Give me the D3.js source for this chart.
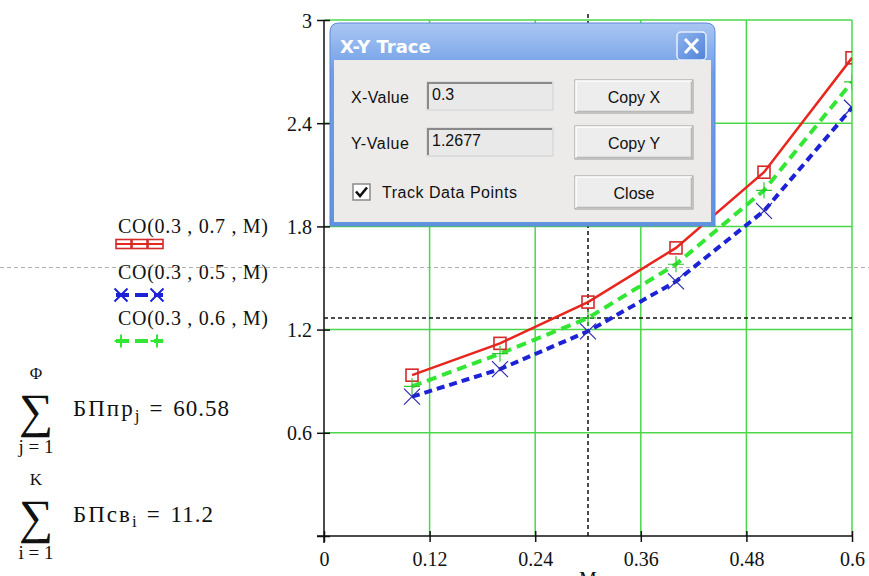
<!DOCTYPE html>
<html lang="ru">
<head>
<meta charset="UTF-8">
<title>CO(0.3, p, M)</title>
<script src="https://cdn.jsdelivr.net/npm/d3@7"></script>
<style>
  html, body { margin: 0; padding: 0; background: #fff; overflow: hidden; }
  svg { display: block; }
  .serif { font-family: "Liberation Serif", "Times New Roman", serif; fill: #111; }
  .ui { font-family: "Liberation Sans", Arial, sans-serif; fill: #111; }
</style>
</head>
<body>
<div id="chart"></div>
<script>
// data
const xVals = [0.1, 0.2, 0.3, 0.4, 0.5, 0.6];
const co07 = [0.935, 1.12, 1.36, 1.675, 2.115, 2.78];
const co05 = [0.81, 0.97, 1.19, 1.48, 1.89, 2.49];
const co06 = [0.87, 1.06, 1.2677, 1.58, 2.01, 2.64];
const seriesNames = ["CO(0.3 , 0.7 , M)", "CO(0.3 , 0.5 , M)", "CO(0.3 , 0.6 , M)"];
const xTicks = [0, 0.12, 0.24, 0.36, 0.48, 0.6];
const yTicks = [0, 0.6, 1.2, 1.8, 2.4, 3];
const traceX = 0.3;
const traceY = 1.2677;
const sumLines = [
  { top: "Φ", base: "БПпр", sub: "j", idx: "j = 1", value: "60.58" },
  { top: "K", base: "БПсв", sub: "i", idx: "i = 1", value: "11.2" }
];

const W = 869, H = 576;
const svg = d3.select("#chart").append("svg").attr("width", W).attr("height", H);
svg.append("rect").attr("width", W).attr("height", H).attr("fill", "#fff");

const x = d3.scaleLinear().domain([0, 0.6]).range([324, 852]);
const y = d3.scaleLinear().domain([0, 3]).range([536, 20]);

// page separator (Mathcad region line)
svg.append("line")
  .attr("x1", 0).attr("x2", W).attr("y1", 267.5).attr("y2", 267.5)
  .attr("stroke", "#b0b0b0").attr("stroke-width", 1).attr("stroke-dasharray", "4,3");

// green grid
const grid = svg.append("g");
grid.selectAll(".gy").data(yTicks.filter(d => d > 0)).join("line")
  .attr("x1", x(0)).attr("x2", x(0.6))
  .attr("y1", d => y(d)).attr("y2", d => y(d))
  .attr("stroke", "#4ad84a").attr("stroke-width", 1.5);
grid.selectAll(".gx").data(xTicks.filter(d => d > 0)).join("line")
  .attr("x1", d => x(d)).attr("x2", d => x(d))
  .attr("y1", y(3)).attr("y2", y(0))
  .attr("stroke", "#4ad84a").attr("stroke-width", 1.5);

// axes
const yAxis = d3.axisLeft(y).tickValues(yTicks).tickSize(7).tickPadding(5)
  .tickFormat(d => d === 0 ? "" : d3.format("")(d));
const gy = svg.append("g").attr("transform", `translate(${x(0)},0)`).call(yAxis);
const xAxis = d3.axisBottom(x).tickValues(xTicks).tickSize(6).tickPadding(6)
  .tickFormat(d3.format(""));
const gx = svg.append("g").attr("transform", `translate(0,${y(0)})`).call(xAxis);

[gx, gy].forEach(g => {
  g.select(".domain").remove();
  g.selectAll("line").attr("stroke", "#111").attr("stroke-width", 1.5);
  g.selectAll("text").attr("class", "serif").attr("font-size", 20).attr("fill", "#111");
});
gy.selectAll(".tick line").attr("x1", 6);
gx.selectAll(".tick line").attr("y1", -5);
gy.selectAll(".tick text").attr("dy", "0.35em");
gx.selectAll(".tick text").attr("dy", "0.9em");

svg.append("line").attr("x1", x(0)).attr("x2", x(0))
  .attr("y1", y(3)).attr("y2", y(0) + 7).attr("stroke", "#111").attr("stroke-width", 1.5);
svg.append("line").attr("x1", x(0) - 7).attr("x2", x(0.6))
  .attr("y1", y(0)).attr("y2", y(0)).attr("stroke", "#111").attr("stroke-width", 1.5);

// x-axis variable name, cut by the window edge as in the screenshot
svg.append("text").attr("class", "serif").attr("font-size", 20)
  .attr("x", x(traceX)).attr("y", 586).attr("text-anchor", "middle").text("M");

// trace crosshair
svg.append("line").attr("x1", x(traceX)).attr("x2", x(traceX))
  .attr("y1", y(3) - 6).attr("y2", y(0))
  .attr("stroke", "#111").attr("stroke-width", 1.5).attr("stroke-dasharray", "4,3");
svg.append("line").attr("x1", x(0)).attr("x2", x(0.6))
  .attr("y1", y(traceY)).attr("y2", y(traceY))
  .attr("stroke", "#111").attr("stroke-width", 1.5).attr("stroke-dasharray", "4,3");

// series
svg.append("clipPath").attr("id", "plotclip").append("rect")
  .attr("x", x(0)).attr("y", y(3) - 10).attr("width", x(0.6) - x(0)).attr("height", y(0) - y(3) + 10);
const plot = svg.append("g").attr("clip-path", "url(#plotclip)");

const series = [
  { vals: co07, color: "#e8261e", width: 2.5, dash: null, marker: "square", mcolor: "#d42a2a" },
  { vals: co05, color: "#1c22d6", width: 4, dash: "8,5", marker: "x", mcolor: "#2a2ab0" },
  { vals: co06, color: "#33e633", width: 4, dash: "10,6", marker: "plus", mcolor: "#2ec82e" }
];
const line = d3.line().x(d => x(d[0])).y(d => y(d[1]));

function drawMarker(g, kind, cx, cy, color, s, w) {
  if (kind === "square") {
    g.append("rect").attr("x", cx - s).attr("y", cy - s).attr("width", 2 * s).attr("height", 2 * s)
      .attr("fill", "none").attr("stroke", color).attr("stroke-width", w);
  } else if (kind === "x") {
    g.append("path").attr("d", `M${cx - s},${cy - s}L${cx + s},${cy + s}M${cx - s},${cy + s}L${cx + s},${cy - s}`)
      .attr("stroke", color).attr("stroke-width", w);
  } else {
    g.append("path").attr("d", `M${cx - s},${cy}L${cx + s},${cy}M${cx},${cy - s}L${cx},${cy + s}`)
      .attr("stroke", color).attr("stroke-width", w);
  }
}

series.forEach(s => {
  const pts = xVals.map((v, i) => [v, s.vals[i]]);
  plot.append("path").datum(pts).attr("d", line)
    .attr("fill", "none").attr("stroke", s.color).attr("stroke-width", s.width)
    .attr("stroke-dasharray", s.dash);
});
series.forEach(s => {
  xVals.forEach((v, i) => drawMarker(plot, s.marker, x(v), y(s.vals[i]), s.mcolor,
    s.marker === "square" ? 6 : 8, s.marker === "square" ? 1.6 : 1.2));
});

// legend at the left
const legendY = [233, 279, 325];
series.forEach((s, i) => {
  svg.append("text").attr("class", "serif").attr("font-size", 20)
    .attr("x", 118).attr("y", legendY[i])
    .attr("textLength", 150).attr("lengthAdjust", "spacing")
    .text(seriesNames[i]);
  const ly = legendY[i] + 11 + (i > 0 ? 5 : 0);
  const lg = svg.append("g");
  if (s.marker === "square") {
    lg.append("line").attr("x1", 116).attr("x2", 163).attr("y1", ly).attr("y2", ly)
      .attr("stroke", s.color).attr("stroke-width", 2);
    [116, 132, 148].forEach(px => lg.append("rect").attr("x", px).attr("y", ly - 4.5)
      .attr("width", 15).attr("height", 9).attr("fill", "none")
      .attr("stroke", s.mcolor).attr("stroke-width", 1.6));
  } else {
    lg.append("line").attr("x1", 116).attr("x2", 163).attr("y1", ly).attr("y2", ly)
      .attr("stroke", s.color).attr("stroke-width", 4).attr("stroke-dasharray", "13,6");
    [121, 157].forEach(px => drawMarker(lg, s.marker, px, ly, s.color, 6.5, 2));
  }
});

// sums
sumLines.forEach((f, i) => {
  const cy = 410 + i * 106;
  const g = svg.append("g").attr("class", "serif");
  g.append("text").attr("font-size", 17).attr("x", 36).attr("y", cy - 31).attr("text-anchor", "middle").text(f.top);
  g.append("text").attr("font-size", 48).attr("x", 36).attr("y", cy + 17).attr("text-anchor", "middle").text("∑");
  g.append("text").attr("font-size", 19).attr("x", 36).attr("y", cy + 43).attr("text-anchor", "middle").text(f.idx);
  const t = g.append("text").attr("font-size", 23).attr("x", 73).attr("y", cy + 6);
  t.append("tspan").attr("letter-spacing", 2).text(f.base);
  t.append("tspan").attr("font-size", 17).attr("dy", 5).text(f.sub);
  t.append("tspan").attr("dy", -5).attr("dx", 10).text("=");
  t.append("tspan").attr("dx", 11).attr("letter-spacing", 1).text(f.value);
});

// X-Y Trace dialog
const defs = svg.append("defs");
const tg = defs.append("linearGradient").attr("id", "titlegrad").attr("x1", 0).attr("x2", 0).attr("y1", 0).attr("y2", 1);
tg.append("stop").attr("offset", 0).attr("stop-color", "#a9c6f2");
tg.append("stop").attr("offset", 0.25).attr("stop-color", "#6e9de6");
tg.append("stop").attr("offset", 1).attr("stop-color", "#5f93e0");
const bg = defs.append("linearGradient").attr("id", "closegrad").attr("x1", 0).attr("x2", 1).attr("y1", 0).attr("y2", 1);
bg.append("stop").attr("offset", 0).attr("stop-color", "#8fb4ee");
bg.append("stop").attr("offset", 1).attr("stop-color", "#4f82d8");

const dlg = svg.append("g");
dlg.append("path")
  .attr("d", "M330,226 L330,32 Q330,23 339,23 L706,23 Q715,23 715,32 L715,226 Z")
  .attr("fill", "url(#titlegrad)").attr("stroke", "#5d8ad6").attr("stroke-width", 1);
dlg.append("rect").attr("x", 334).attr("y", 60).attr("width", 377).attr("height", 162)
  .attr("fill", "#ecebea");
dlg.append("text").attr("x", 340).attr("y", 53).attr("font-family", "DejaVu Sans, sans-serif")
  .attr("font-weight", "bold").attr("font-size", 18).attr("fill", "#fff").text("X-Y Trace");
dlg.append("rect").attr("x", 677).attr("y", 32).attr("width", 29).attr("height", 28).attr("rx", 4)
  .attr("fill", "url(#closegrad)").attr("stroke", "#e8f0fc").attr("stroke-width", 1.5);
dlg.append("path").attr("d", "M685,39L698,53M685,53L698,39")
  .attr("stroke", "#fff").attr("stroke-width", 3);

const fields = [
  { label: "X-Value", value: d3.format("")(traceX), y: 82, btn: "Copy X" },
  { label: "Y-Value", value: d3.format("")(traceY), y: 128, btn: "Copy Y" }
];
function button(bx, by, bw, bh, label) {
  dlg.append("rect").attr("x", bx).attr("y", by).attr("width", bw).attr("height", bh)
    .attr("fill", "#ededed").attr("stroke", "#9a9a9a").attr("stroke-width", 1);
  dlg.append("path").attr("d", `M${bx + 1},${by + bh - 1}V${by + 1}H${bx + bw - 1}`)
    .attr("fill", "none").attr("stroke", "#ffffff").attr("stroke-width", 1.5);
  dlg.append("path").attr("d", `M${bx + 1.5},${by + bh - 1.5}H${bx + bw - 1.5}V${by + 1.5}`)
    .attr("fill", "none").attr("stroke", "#b8b8b8").attr("stroke-width", 1.5);
  dlg.append("text").attr("class", "ui").attr("font-size", 16)
    .attr("x", bx + bw / 2).attr("y", by + bh / 2 + 6).attr("text-anchor", "middle").text(label);
}
fields.forEach(f => {
  dlg.append("text").attr("class", "ui").attr("font-size", 16)
    .attr("x", 351).attr("y", f.y + 21).attr("textLength", 58).attr("lengthAdjust", "spacing").text(f.label);
  dlg.append("rect").attr("x", 427).attr("y", f.y).attr("width", 126).attr("height", 28)
    .attr("fill", "#e9e9e9").attr("stroke", "#d0d0d0");
  dlg.append("path").attr("d", `M428,${f.y + 27}V${f.y + 1}H552`)
    .attr("fill", "none").attr("stroke", "#8a8a8a").attr("stroke-width", 2);
  dlg.append("text").attr("class", "ui").attr("font-size", 16)
    .attr("x", 432).attr("y", f.y + 18).text(f.value);
  button(575, f.y - 2, 118, 33, f.btn);
});
button(575, 176, 118, 33, "Close");

dlg.append("rect").attr("x", 353).attr("y", 184).attr("width", 17).attr("height", 16)
  .attr("fill", "#fff").attr("stroke", "#8a8a8a").attr("stroke-width", 1.5);
dlg.append("path").attr("d", "M356,191.5L360,196L367,187.5")
  .attr("fill", "none").attr("stroke", "#111").attr("stroke-width", 2.6);
dlg.append("text").attr("class", "ui").attr("font-size", 16)
  .attr("x", 382).attr("y", 198).attr("textLength", 135).attr("lengthAdjust", "spacing")
  .text("Track Data Points");
</script>
</body>
</html>
